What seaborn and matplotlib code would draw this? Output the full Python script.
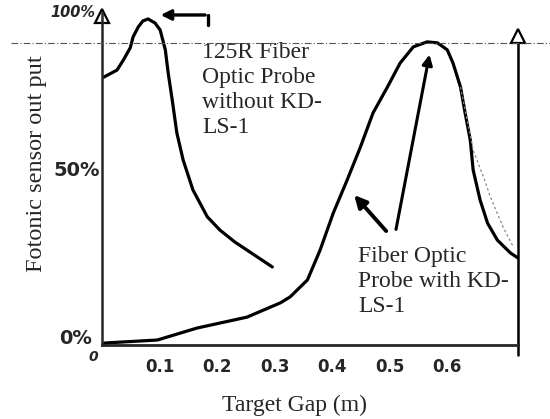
import matplotlib
matplotlib.use("Agg")
import matplotlib.pyplot as plt
from matplotlib.lines import Line2D
import pandas as pd
import seaborn as sns

# curve without KD-LS-1 (left peak)
gap_without = [0.0, 0.026, 0.037, 0.049, 0.054, 0.063, 0.071, 0.080, 0.092, 0.101,
               0.110, 0.115, 0.122, 0.130, 0.141, 0.158, 0.183, 0.205, 0.231, 0.257,
               0.296]
out_without = [80.4, 82.8, 85.8, 89.5, 92.8, 95.8, 97.6, 98.2, 97.0, 94.9,
               88.9, 81.9, 73.8, 63.9, 55.7, 46.7, 38.6, 34.6, 31.0, 28.0,
               23.5]

# curve with KD-LS-1 (right peak)
gap_with = [0.0, 0.005, 0.096, 0.165, 0.252, 0.310, 0.327, 0.357, 0.379, 0.402,
            0.426, 0.449, 0.471, 0.496, 0.518, 0.541, 0.565, 0.583, 0.600, 0.610,
            0.623, 0.631, 0.640, 0.645, 0.657, 0.670, 0.687, 0.710, 0.723]
out_with = [0.0, 0.6, 1.5, 5.1, 8.4, 12.7, 14.5, 19.6, 28.6, 39.8,
            49.7, 59.6, 69.9, 77.7, 84.9, 89.8, 91.3, 91.0, 88.9, 84.9,
            77.7, 69.9, 61.7, 52.7, 43.7, 36.7, 31.6, 27.7, 26.2]

# faint pencil trace next to the falling side
gap_trace = [0.623, 0.645, 0.663, 0.675, 0.697, 0.715]
out_trace = [77.7, 58.7, 50.6, 44.6, 35.5, 29.5]

x_ticks = [0.1, 0.2, 0.3, 0.4, 0.5, 0.6]
x_labels = ["0.1", "0.2", "0.3", "0.4", "0.5", "0.6"]

df_without = pd.DataFrame({"gap": gap_without, "out": out_without})
df_with = pd.DataFrame({"gap": gap_with, "out": out_with})
df_trace = pd.DataFrame({"gap": gap_trace, "out": out_trace})

sns.set_style("white")
plt.rcParams["font.family"] = ["Liberation Serif", "DejaVu Serif"]

fig = plt.figure(figsize=(5.5, 4.19), dpi=100)
ax = fig.add_axes([0.1855, 0.1766, 0.7564, 0.7924])

sns.lineplot(data=df_without, x="gap", y="out", color="black", linewidth=2.3, ax=ax)
sns.lineplot(data=df_with, x="gap", y="out", color="black", linewidth=2.3, ax=ax)
sns.lineplot(data=df_trace, x="gap", y="out", color="#888888", linewidth=0.9,
             linestyle=(0, (2, 2)), ax=ax)

ax.set_xlim(0, 0.723)
ax.set_ylim(0, 100)
ax.set_xlabel("")
ax.set_ylabel("")

for s in ["top", "right"]:
    ax.spines[s].set_visible(False)
ax.spines["left"].set_linewidth(1.8)
ax.spines["bottom"].set_linewidth(2.0)

ax.set_xticks(x_ticks, x_labels)
ax.set_yticks([])
ax.tick_params(axis="x", direction="inout", length=10, width=1.6, pad=4,
               labelsize=12)
for lab in ax.get_xticklabels():
    lab.set_fontfamily("DejaVu Sans")
    lab.set_fontweight("bold")

# arrow heads on the vertical axis and the right boundary line
ax.plot([0], [99], marker="^", markersize=10, markerfacecolor="white",
        markeredgecolor="black", markeredgewidth=1.6, clip_on=False)
ax.plot([0.723, 0.723], [-3, 93], color="black", linewidth=1.8, clip_on=False)
ax.plot([0.723], [93], marker="^", markersize=10, markerfacecolor="white",
        markeredgecolor="black", markeredgewidth=1.6, clip_on=False)

# y labels written by hand
hand = dict(fontfamily="DejaVu Sans", fontweight="bold", ha="right", va="center")
ax.text(-0.017, 2.1, "0%", fontsize=14, **hand)
ax.text(-0.004, 52.7, "50%", fontsize=14, **hand)
ax.text(-0.012, 100, "100%", fontsize=10.5, fontstyle="italic", **hand)
ax.text(-0.006, -3.6, "0", fontsize=10, fontstyle="italic", **hand)

# dash-dot reference line across the page
fig.add_artist(Line2D([0.02, 1.0], [0.897, 0.897], color="#555555", linewidth=0.8,
                      linestyle=(0, (6, 2, 1, 2))))

# annotation texts
ax.text(0.174, 91.2, "125R Fiber\nOptic Probe\nwithout KD-\nLS-1", fontsize=17,
        va="top", ha="left", linespacing=1.25)
ax.text(0.445, 29.8, "Fiber Optic\nProbe with KD-\nLS-1", fontsize=17,
        va="top", ha="left", linespacing=1.25)

# arrows
ax.annotate("", xy=(0.097, 99.4), xytext=(0.184, 99.4), annotation_clip=False,
            arrowprops=dict(arrowstyle="-|>", color="black", lw=2.4,
                            mutation_scale=15))
ax.plot([0.184, 0.184], [99.4, 96.4], color="black", linewidth=2.4, clip_on=False)
ax.annotate("", xy=(0.570, 88.3), xytext=(0.510, 34.0),
            arrowprops=dict(arrowstyle="-|>", color="black", lw=2.2,
                            mutation_scale=15))
ax.annotate("", xy=(0.435, 45.8), xytext=(0.497, 33.7),
            arrowprops=dict(arrowstyle="-|>", color="black", lw=2.8,
                            mutation_scale=18))

fig.text(37 / 550, 1 - 164 / 419, "Fotonic sensor out put", rotation=90,
         ha="center", va="center", fontsize=17.5)
fig.text(294 / 550, 1 - 405 / 419, "Target Gap (m)", ha="center", va="center",
         fontsize=17)

fig.savefig("out.png", dpi=100)
